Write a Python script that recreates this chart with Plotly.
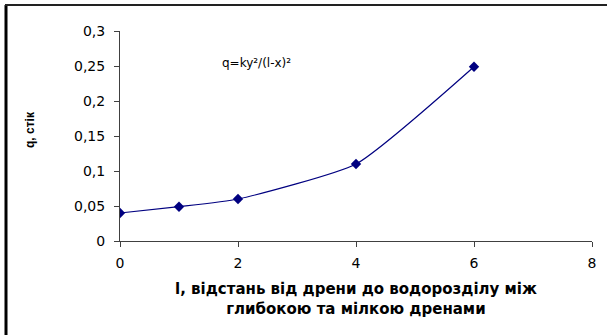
import plotly.graph_objects as go

x_vals = [0, 1, 2, 4, 6]
q_vals = [0.04, 0.049, 0.06, 0.11, 0.249]
y_tickvals = [0, 0.05, 0.1, 0.15, 0.2, 0.25, 0.3]
y_ticktext = ["0", "0,05", "0,1", "0,15", "0,2", "0,25", "0,3"]
x_tickvals = [0, 2, 4, 6, 8]
x_ticktext = ["0", "2", "4", "6", "8"]
formula = "q=ky²/(l-x)²"
x_title = "<b>l, відстань від дрени до водорозділу між<br>глибокою та мілкою дренами</b>"
y_title = "<b>q, стік</b>"

W, H = 607, 335
L, R, T, B = 120, 15, 31, 94
pw, ph = W - L - R, H - T - B

def px(x):
    return (x - L) / pw

def py(y):
    return (H - B - y) / ph

fig = go.Figure()
fig.add_trace(go.Scatter(
    x=x_vals, y=q_vals, mode="lines+markers",
    line=dict(color="#000080", width=1.2, shape="spline", smoothing=0.5),
    marker=dict(symbol="diamond", size=8, color="#000080"),
    showlegend=False,
))

fig.update_layout(
    width=W, height=H,
    margin=dict(l=L, r=R, t=T, b=B),
    paper_bgcolor="white", plot_bgcolor="white",
    font=dict(family="DejaVu Sans", size=14, color="black"),
    xaxis=dict(range=[0, 8], tickvals=x_tickvals, ticktext=x_ticktext,
               showgrid=False, zeroline=False, showline=True, linecolor="#404040",
               linewidth=1, ticks="outside", ticklen=5, tickcolor="#404040",
               tickfont=dict(size=14), ticklabelstandoff=4),
    yaxis=dict(range=[0, 0.3], tickvals=y_tickvals, ticktext=y_ticktext,
               showgrid=False, zeroline=False, showline=True, linecolor="#404040",
               linewidth=1, ticks="outside", ticklen=5, tickcolor="#404040",
               tickfont=dict(size=14), ticklabelstandoff=6),
    annotations=[
        dict(x=2.32, y=0.254, text=formula, showarrow=False,
             font=dict(size=12), xref="x", yref="y"),
        dict(x=px(356), y=py(299), text=x_title, showarrow=False,
             xref="paper", yref="paper", xanchor="center", yanchor="middle",
             font=dict(size=15)),
        dict(x=px(30), y=py(130), text=y_title, showarrow=False, textangle=-90,
             xref="paper", yref="paper", xanchor="center", yanchor="middle",
             font=dict(family="Liberation Sans, Arial", size=12)),
    ],
    shapes=[
        dict(type="line", xref="paper", yref="paper", x0=px(6), x1=px(6),
             y0=py(H + 5), y1=py(5), line=dict(color="black", width=3)),
        dict(type="line", xref="paper", yref="paper", x0=px(5), x1=px(W + 5),
             y0=py(5), y1=py(5), line=dict(color="#222", width=2)),
    ],
)

fig.write_html("out.html", config={"displayModeBar": False},
               post_script="document.body.style.margin='0';document.body.style.overflow='hidden';")
